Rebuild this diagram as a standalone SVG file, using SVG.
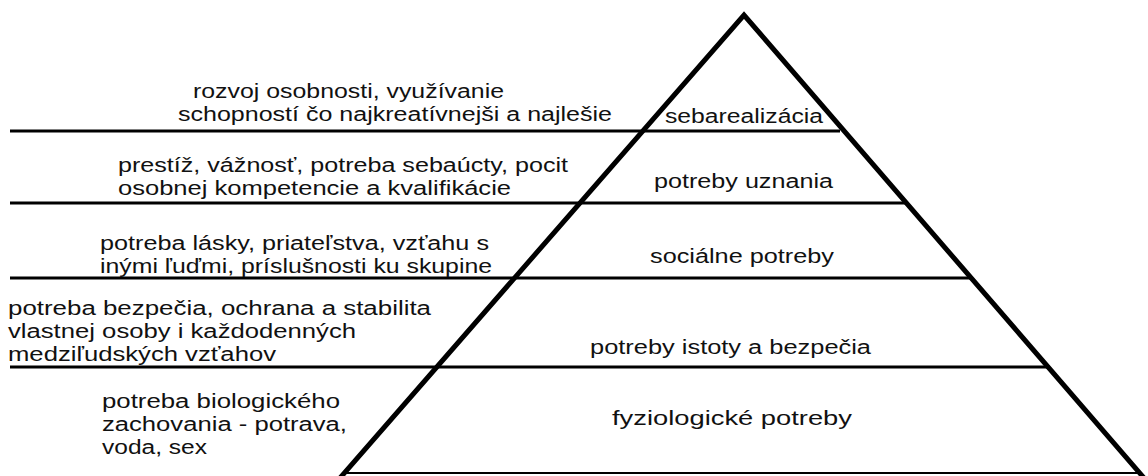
<svg xmlns="http://www.w3.org/2000/svg" width="1148" height="476" viewBox="0 0 1148 476">
<style>
.t{font-family:"Liberation Sans","Open Sans",sans-serif;font-size:20px;fill:#111;}
.h{stroke:#000;stroke-width:3;fill:none;}
.tri{stroke:#000;stroke-width:5;fill:none;stroke-linejoin:miter;}
</style>
<rect width="1148" height="476" fill="#fff"/>
<g id="connectors">
<line class="h" x1="10" y1="131" x2="840" y2="131"/>
<line class="h" x1="10" y1="203" x2="908" y2="203"/>
<line class="h" x1="10" y1="278" x2="972" y2="278"/>
<line class="h" x1="10" y1="367" x2="1050" y2="367"/>
<line x1="342" y1="473" x2="1142" y2="473" stroke="#000" stroke-width="2"/>
<polyline class="tri" points="340,478 744,15 1144,478"/>
</g>
<g id="level1">
<text class="t" x="193" y="98" textLength="311" lengthAdjust="spacingAndGlyphs">rozvoj osobnosti, využívanie</text>
<text class="t" x="178" y="121" textLength="434" lengthAdjust="spacingAndGlyphs">schopností čo najkreatívnejši a najlešie</text>
<text class="t" x="665" y="123" textLength="158" lengthAdjust="spacingAndGlyphs">sebarealizácia</text>
</g>
<g id="level2">
<text class="t" x="118" y="172" textLength="450" lengthAdjust="spacingAndGlyphs">prestíž, vážnosť, potreba sebaúcty, pocit</text>
<text class="t" x="118" y="195" textLength="393" lengthAdjust="spacingAndGlyphs">osobnej kompetencie a kvalifikácie</text>
<text class="t" x="654" y="188" textLength="179" lengthAdjust="spacingAndGlyphs">potreby uznania</text>
</g>
<g id="level3">
<text class="t" x="100" y="250" textLength="389" lengthAdjust="spacingAndGlyphs">potreba lásky, priateľstva, vzťahu s</text>
<text class="t" x="100" y="273" textLength="392" lengthAdjust="spacingAndGlyphs">inými ľuďmi, príslušnosti ku skupine</text>
<text class="t" x="650" y="263" textLength="184" lengthAdjust="spacingAndGlyphs">sociálne potreby</text>
</g>
<g id="level4">
<text class="t" x="8" y="315" textLength="423" lengthAdjust="spacingAndGlyphs">potreba bezpečia, ochrana a stabilita</text>
<text class="t" x="8" y="338" textLength="348" lengthAdjust="spacingAndGlyphs">vlastnej osoby i každodenných</text>
<text class="t" x="8" y="361" textLength="268" lengthAdjust="spacingAndGlyphs">medziľudských vzťahov</text>
<text class="t" x="590" y="354" textLength="281" lengthAdjust="spacingAndGlyphs">potreby istoty a bezpečia</text>
</g>
<g id="level5">
<text class="t" x="102" y="408" textLength="238" lengthAdjust="spacingAndGlyphs">potreba biologického</text>
<text class="t" x="102" y="431" textLength="245" lengthAdjust="spacingAndGlyphs">zachovania - potrava,</text>
<text class="t" x="102" y="454" textLength="105" lengthAdjust="spacingAndGlyphs">voda, sex</text>
<text class="t" x="612" y="425" textLength="240" lengthAdjust="spacingAndGlyphs">fyziologické potreby</text>
</g>
</svg>
